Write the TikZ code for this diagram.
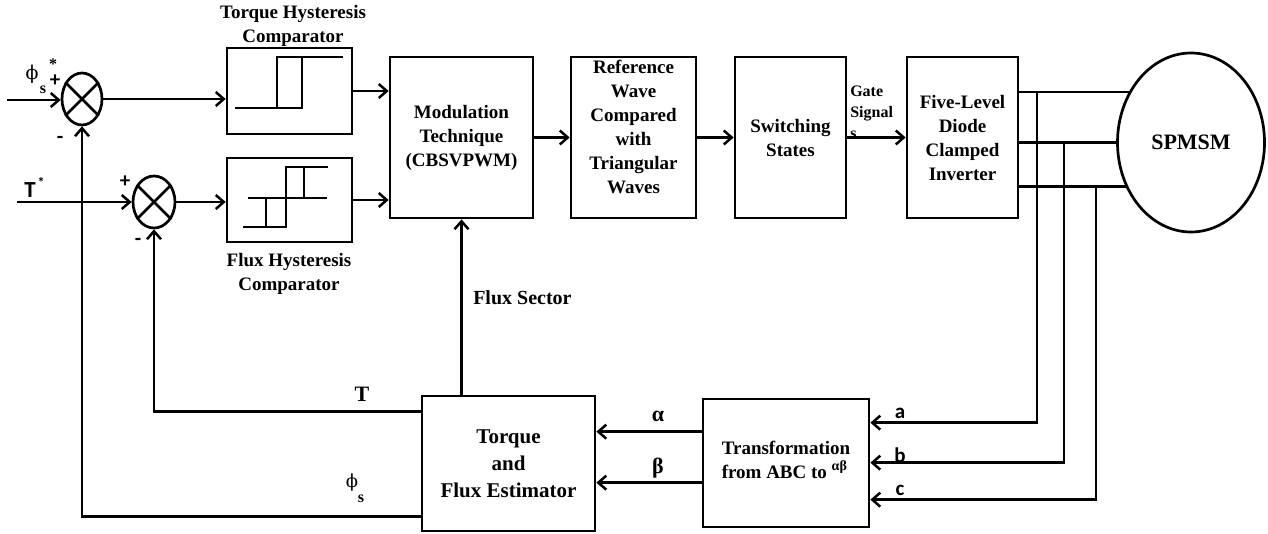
\documentclass[tikz,border=0pt]{standalone}
\usepackage{fontspec}
\setmainfont{Liberation Serif}
\newfontfamily\calb{Carlito}
\newfontfamily\phifont{DejaVu Serif}
\usetikzlibrary{shapes.geometric,arrows.meta}
\begin{document}
\begin{tikzpicture}[x=1pt,y=-1pt,line width=2.5pt,
  >={Straight Barb[length=8pt,width=14pt]},
  blk/.style={draw,line width=2.7pt,rectangle,inner sep=0pt,align=center,
    font=\bfseries\fontsize{19}{24}\selectfont},
  sumj/.style={draw,line width=2.7pt,ellipse,inner sep=0pt},
  lbl/.style={inner sep=0pt,font=\bfseries\fontsize{19}{24}\selectfont,align=center},
  slbl/.style={inner sep=0pt,font=\calb\bfseries\fontsize{21}{21}\selectfont},
  glyph/.style={line width=2.5pt}]
\useasboundingbox (0,0) rectangle (1268,533);

% summing junctions
\node[sumj,minimum width=40pt,minimum height=52pt] (s1) at (82,99) {};
\node[sumj,minimum width=42pt,minimum height=52pt] (s2) at (154,202) {};
\draw (s1.45) -- (s1.225) (s1.135) -- (s1.315);
\draw (s2.45) -- (s2.225) (s2.135) -- (s2.315);

% blocks
\node[blk,minimum width=125pt,minimum height=86pt] (th) at (289.5,91) {};
\node[blk,minimum width=125pt,minimum height=84pt] (fh) at (289.5,200) {};
\node[blk,minimum width=143pt,minimum height=161pt] (mod) at (461.5,137.5) {Modulation\\Technique\\(CBSVPWM)};
\node[blk,minimum width=125pt,minimum height=161pt] (ref) at (633.5,137.5) {};
\node[lbl] (reftxt) at (633.5,127) {Reference\\Wave\\Compared\\with\\Triangular\\Waves};
\node[blk,minimum width=111pt,minimum height=161pt] (sw) at (790.5,137.5) {Switching\\States};
\node[blk,minimum width=111pt,minimum height=161pt] (inv) at (962.5,137.5) {Five-Level\\Diode\\Clamped\\Inverter};
\node[sumj,minimum width=147pt,minimum height=179pt,font=\bfseries\fontsize{22}{22}\selectfont] (mot) at (1191,142.5) {SPMSM};
\node[blk,minimum width=173pt,minimum height=135pt,font=\bfseries\fontsize{21}{27}\selectfont] (est) at (508.5,463.5) {Torque\\and\\Flux Estimator};
\node[blk,minimum width=166pt,minimum height=128pt] (trans) at (786,463) {};
\node[lbl,align=left] (transtxt) at (786,460) {\hspace*{0pt}Transformation\\from ABC to \raisebox{8pt}{\fontsize{14}{14}\selectfont αβ}};

% hysteresis glyphs
\draw[glyph] (235,108) -- (302,108) -- (302,57) -- (277,57) -- (277,108);
\draw[glyph] (277,57) -- (343,57);
\draw[glyph] (248,198) -- (327,198);
\draw[glyph] (243,227) -- (286,227) -- (286,167) -- (328,167);
\draw[glyph] (266,198) -- (266,227);
\draw[glyph] (304,167) -- (304,198);

% titles
\node[lbl] (thtitle) at (293,26) {Torque Hysteresis\\Comparator};
\node[lbl] (fhtitle) at (289,274) {Flux Hysteresis\\Comparator};

% inputs
\coordinate (in1) at (7,100);
\coordinate (in2) at (17,202);
\draw[->] (in1) -- (in1 -| s1.west);
\draw[->] (in2) -- (s2.west);

% forward path
\draw[->] (s1.east) -- (s1.east -| th.west);
\draw[->] (s2.east) -- (s2.east -| fh.west);
\draw[->] (th.east) -- (th.east -| mod.west);
\draw[->] (fh.east) -- (fh.east -| mod.west);
\draw[->] (mod.east) -- (ref.west);
\draw[->] (ref.east) -- (sw.west);
\draw[->] (sw.east) -- (inv.west);

% three phase to motor
\path (mot.141) coordinate (ma) (mot.180) coordinate (mb) (mot.214) coordinate (mc);
\draw (inv.east |- ma) -- (ma);
\draw (inv.east |- mb) -- (mb);
\draw (inv.east |- mc) -- (mc);
\coordinate (xa) at (1037,0);
\coordinate (xb) at (1064,0);
\coordinate (xc) at (1096,0);
\draw[->] (xa |- ma) |- ([yshift=-25pt]trans.north east);
\draw[->] (xb |- mb) |- ([yshift=-65pt]trans.north east);
\draw[->] (xc |- mc) |- ([yshift=-102pt]trans.north east);

% alpha beta
\draw[->] ([yshift=-34pt]trans.north west) -- ([yshift=-34pt]trans.north west -| est.east);
\draw[->] ([yshift=-85pt]trans.north west) -- ([yshift=-85pt]trans.north west -| est.east);

% feedback
\draw[->] (mod.south |- est.north) -- (mod.south);
\draw[->] ([yshift=-17pt]est.north west) -| (s2.south);
\draw[->] ([yshift=16pt]est.south west) -| (s1.south);

% labels
\node[inner sep=0pt,font=\bfseries\fontsize{20}{20}\selectfont,anchor=west] (fs) at (472,298) {Flux Sector};
\node[inner sep=0pt,font=\bfseries\fontsize{16}{21}\selectfont,align=left,anchor=west] (gs) at (849,112) {Gate\\Signal\\s};
\node[inner sep=0pt,font=\bfseries\fontsize{22}{22}\selectfont] (tl) at (362,394) {T};
\node[inner sep=0pt,font=\phifont\fontsize{18}{18}\selectfont] (phl) at (352,483) {ϕ};
\node[inner sep=0pt,font=\bfseries\fontsize{16}{16}\selectfont] (phls) at (361,499) {s};
\node[inner sep=0pt,font=\bfseries\fontsize{22}{22}\selectfont] (al) at (658,416) {α};
\node[inner sep=0pt,font=\bfseries\fontsize{22}{22}\selectfont] (bl) at (658,468) {β};
\node[slbl] (la) at (900,413) {a};
\node[slbl] (lb) at (900,455) {b};
\node[slbl] (lc) at (900,490) {c};

\node[inner sep=0pt,font=\phifont\fontsize{19}{19}\selectfont] (ph1) at (32,74) {ϕ};
\node[inner sep=0pt,font=\bfseries\fontsize{16}{16}\selectfont] (ph1s) at (43,90) {s};
\node[inner sep=0pt,font=\bfseries\fontsize{16}{16}\selectfont] (ph1st) at (53,64) {*};
\node[slbl] (p1) at (55,81) {+};
\node[slbl] (m1) at (60,140) {-};
\node[inner sep=0pt,font=\calb\bfseries\fontsize{23}{23}\selectfont] (tst) at (30,190) {T};
\node[inner sep=0pt,font=\calb\bfseries\fontsize{14}{14}\selectfont] (tsts) at (41,182) {*};
\node[slbl] (p2) at (125,182) {+};
\node[slbl] (m2) at (138,242) {-};
\end{tikzpicture}
\end{document}
